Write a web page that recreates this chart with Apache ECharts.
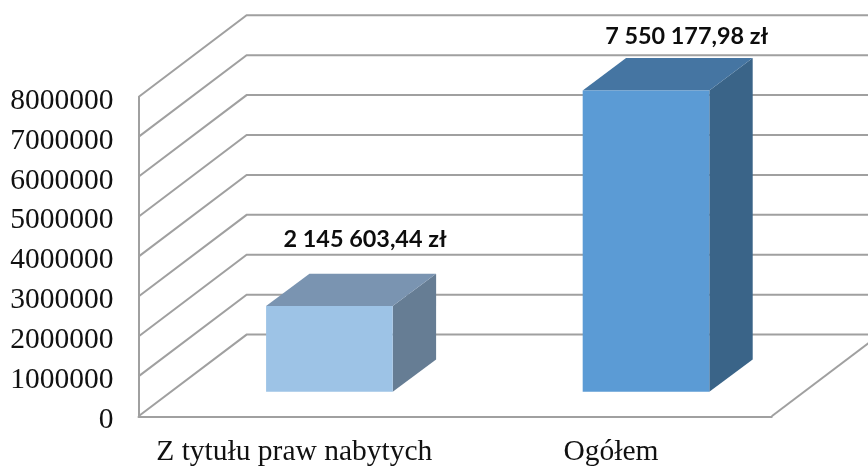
<!DOCTYPE html>
<html><head><meta charset="utf-8">
<style>html,body{margin:0;padding:0;background:#fff}#c{width:868px;height:467px}</style>
<script src="https://cdn.jsdelivr.net/npm/echarts@6/dist/echarts.min.js"></script>
</head><body><div id="c"></div>
<script>
var categories = ['Z tytułu praw nabytych', 'Ogółem'];
var values = [2145603.44, 7550177.98];
var valueLabels = ['2 145 603,44 zł', '7 550 177,98 zł'];
var ticks = [0, 1000000, 2000000, 3000000, 4000000, 5000000, 6000000, 7000000, 8000000];

var frontColors = ['#9dc3e6', '#5b9bd5'];
var topColors = ['#7a94b1', '#4575a2'];
var sideColors = ['#667d94', '#3a6488'];
var gridColor = '#a0a0a0';
var labelShift = [[14, -34], [19, -22]];

var wallDepthX = 0.3415, wallDepthY = 2.047;
var barOffsetX = 0.103, barOffsetY = 0.615;
var barSideX = 0.137, barSideY = 0.81, barWidth = 0.4;

function bandW(api) { return api.size([1, 0])[0]; }
function unitH(api) { return api.size([0, 1000000])[1]; }

function renderGrid(params, api) {
  var t = api.value(0);
  var cs = params.coordSys;
  var y = api.coord([0, t])[1];
  var dx = wallDepthX * bandW(api), dy = wallDepthY * unitH(api);
  var left = cs.x, right = cs.x + cs.width;
  var children = [{
    type: 'polyline',
    shape: { points: [[left, y], [left + dx, y - dy], [right + dx, y - dy]] },
    style: { fill: null, stroke: gridColor, lineWidth: 2 }
  }];
  if (t === 0) {
    children.push({
      type: 'line',
      shape: { x1: right, y1: y, x2: right + dx, y2: y - dy },
      style: { stroke: gridColor, lineWidth: 2 }
    });
  }
  return { type: 'group', children: children };
}

function renderBar(params, api) {
  var i = api.value(0), v = api.value(1);
  var bw = bandW(api), uh = unitH(api);
  var c0 = api.coord([i, 0]), c1 = api.coord([i, v]);
  var cx = c0[0] + barOffsetX * bw;
  var half = barWidth * bw / 2;
  var l = cx - half, r = cx + half;
  var b = c0[1] - barOffsetY * uh, t = c1[1] - barOffsetY * uh;
  var sx = barSideX * bw, sy = barSideY * uh;
  var s = labelShift[i];
  return {
    type: 'group',
    children: [
      { type: 'polygon', shape: { points: [[r, b], [r + sx, b - sy], [r + sx, t - sy], [r, t]] }, style: { fill: sideColors[i] } },
      { type: 'polygon', shape: { points: [[l, t], [l + sx, t - sy], [r + sx, t - sy], [r, t]] }, style: { fill: topColors[i] } },
      { type: 'rect', shape: { x: l, y: t, width: r - l, height: b - t }, style: { fill: frontColors[i] } },
      { type: 'text', x: cx + sx / 2 + s[0], y: t - sy + s[1],
        style: { text: valueLabels[i], font: 'bold 23.4px Lato', fill: '#0d0d0d', align: 'center', verticalAlign: 'middle' } }
    ]
  };
}

var chart = echarts.init(document.getElementById('c'), null, { renderer: 'canvas' });
chart.setOption({
  animation: false,
  backgroundColor: '#ffffff',
  grid: { left: 138.5, right: 96.3, top: 97, bottom: 50.7, containLabel: false, outerBoundsMode: 'none' },
  xAxis: {
    type: 'category', data: categories,
    axisLine: { show: true, lineStyle: { color: gridColor, width: 2 } },
    axisTick: { show: false },
    axisLabel: { color: '#111', fontFamily: 'Liberation Serif', fontSize: 29.5, margin: 21, interval: 0, hideOverlap: false, padding: [0, 5, 0, 0] }
  },
  yAxis: {
    type: 'value', min: 0, max: 8000000, interval: 1000000,
    axisLine: { show: true, lineStyle: { color: gridColor, width: 2 } },
    axisTick: { show: false },
    splitLine: { show: false },
    axisLabel: { color: '#111', fontFamily: 'Liberation Serif', fontSize: 29.5, margin: 25, verticalAlign: 'top', lineHeight: 8, formatter: function (v) { return String(v); } }
  },
  series: [
    { type: 'custom', renderItem: renderGrid, data: ticks.map(function (t) { return [t]; }), encode: { y: 0 }, silent: true, z: 1 },
    { type: 'custom', renderItem: renderBar, data: values.map(function (v, i) { return [i, v]; }), encode: { x: 0, y: 1 }, silent: true, z: 2 }
  ]
});
</script></body></html>
